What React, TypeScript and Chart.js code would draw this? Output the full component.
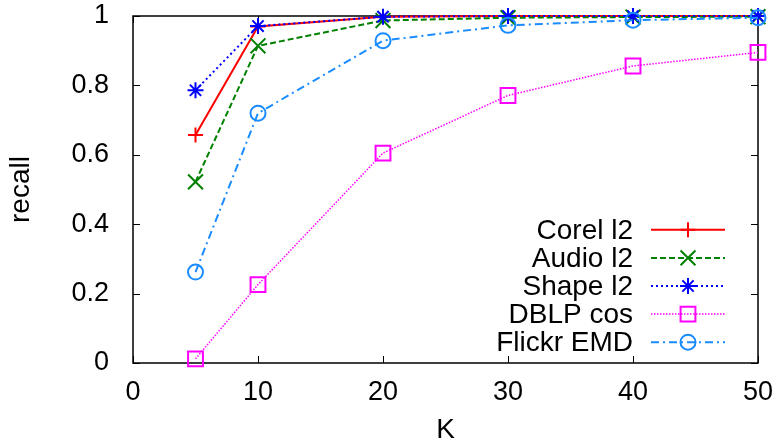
import React, { useEffect, useRef } from 'react';
import { Chart, registerables } from 'chart.js';

Chart.register(...registerables);

// ---- data ----
const kValues = [5, 10, 20, 30, 40, 50];
const corelL2 = [0.657, 0.970, 0.998, 1.0, 1.0, 1.0];
const audioL2 = [0.522, 0.914, 0.987, 0.995, 0.997, 0.998];
const shapeL2 = [0.786, 0.971, 0.998, 1.0, 1.0, 1.0];
const dblpCos = [0.012, 0.226, 0.605, 0.771, 0.856, 0.895];
const flickrEMD = [0.262, 0.720, 0.929, 0.973, 0.988, 0.995];
const seriesNames = ['Corel l2', 'Audio l2', 'Shape l2', 'DBLP cos', 'Flickr EMD'];
const xTicks = [0, 10, 20, 30, 40, 50];
const yTicks = [0, 0.2, 0.4, 0.6, 0.8, 1];
const yTickLabels = ['0', '0.2', '0.4', '0.6', '0.8', '1'];
const xTitle = 'K';
const yTitle = 'recall';

// ---- styles ----
const FONT = '"Liberation Sans", Arial, Helvetica, sans-serif';
const FS = 28;
const TFS = 27;
const styles = [
  { color: '#ff0000', dash: [] as number[], width: 2, point: 'cross', radius: 7.5 },
  { color: '#008000', dash: [6, 3], width: 2, point: 'crossRot', radius: 10.5 },
  { color: '#0000ff', dash: [2, 3], width: 2, point: 'star', radius: 8 },
  { color: '#ff00ff', dash: [1.5, 1.5], width: 1.5, point: 'rect', radius: 10.5 },
  { color: '#1a8cff', dash: [8, 4, 2, 4], width: 2, point: 'circle', radius: 7.5 },
];
const allSeries = [corelL2, audioL2, shapeL2, dblpCos, flickrEMD];

function drawMarker(ctx: CanvasRenderingContext2D, style: string, x: number, y: number, r: number) {
  ctx.beginPath();
  const d = r * Math.SQRT1_2;
  switch (style) {
    case 'cross':
      ctx.moveTo(x - r, y); ctx.lineTo(x + r, y);
      ctx.moveTo(x, y - r); ctx.lineTo(x, y + r);
      break;
    case 'crossRot':
      ctx.moveTo(x - d, y - d); ctx.lineTo(x + d, y + d);
      ctx.moveTo(x - d, y + d); ctx.lineTo(x + d, y - d);
      break;
    case 'star':
      ctx.moveTo(x - r, y); ctx.lineTo(x + r, y);
      ctx.moveTo(x, y - r); ctx.lineTo(x, y + r);
      ctx.moveTo(x - d, y - d); ctx.lineTo(x + d, y + d);
      ctx.moveTo(x - d, y + d); ctx.lineTo(x + d, y - d);
      break;
    case 'rect':
      ctx.rect(x - d, y - d, 2 * d, 2 * d);
      break;
    case 'circle':
      ctx.arc(x, y, r, 0, Math.PI * 2);
      break;
  }
  ctx.stroke();
}

const framePlugin = {
  id: 'gnuFrame',
  beforeDatasetsDraw(chart: any) {
    const { ctx, chartArea, scales } = chart;
    const { left, right, top, bottom } = chartArea;
    ctx.save();
    ctx.strokeStyle = '#000';
    ctx.lineWidth = 1;
    const tl = 7;
    ctx.beginPath();
    xTicks.forEach((v) => {
      const px = Math.round(scales.x.getPixelForValue(v)) + 0.5;
      ctx.moveTo(px, bottom); ctx.lineTo(px, bottom - tl);
      ctx.moveTo(px, top); ctx.lineTo(px, top + tl);
    });
    yTicks.forEach((v) => {
      const py = Math.round(scales.y.getPixelForValue(v)) + 0.5;
      ctx.moveTo(left, py); ctx.lineTo(left + tl, py);
      ctx.moveTo(right, py); ctx.lineTo(right - tl, py);
    });
    ctx.stroke();
    ctx.lineWidth = 1.5;
    ctx.strokeRect(left, top, right - left, bottom - top);
    ctx.restore();
  },
};

const legendPlugin = {
  id: 'gnuLegend',
  afterDraw(chart: any) {
    const { ctx, chartArea } = chart;
    const { right, bottom } = chartArea;
    const textRight = right - 125;
    const sampleL = right - 107;
    const sampleR = right - 33;
    const markX = (sampleL + sampleR) / 2;
    const rowH = 28.1;
    const firstY = bottom - 133.2;
    ctx.save();
    ctx.font = `${FS}px ${FONT}`;
    ctx.textAlign = 'right';
    ctx.textBaseline = 'middle';
    seriesNames.forEach((name, i) => {
      const s = styles[i];
      const y = firstY + i * rowH;
      ctx.fillStyle = '#000';
      ctx.fillText(name, textRight, y + 1);
      ctx.strokeStyle = s.color;
      ctx.lineWidth = s.width;
      ctx.setLineDash(s.dash);
      ctx.beginPath();
      ctx.moveTo(sampleL, y); ctx.lineTo(sampleR, y);
      ctx.stroke();
      ctx.setLineDash([]);
      ctx.lineWidth = 2;
      drawMarker(ctx, s.point, markX, y, s.radius);
    });
    ctx.restore();
  },
};

export default function App() {
  const ref = useRef<HTMLCanvasElement | null>(null);
  useEffect(() => {
    if (!ref.current) return;
    const chart = new Chart(ref.current, {
      type: 'line',
      data: {
        datasets: allSeries.map((vals, i) => ({
          label: seriesNames[i],
          data: vals.map((v, j) => ({ x: kValues[j], y: v })),
          borderColor: styles[i].color,
          borderWidth: styles[i].width,
          borderDash: styles[i].dash,
          pointStyle: styles[i].point as any,
          pointRadius: styles[i].radius,
          pointBorderWidth: 2,
          pointBorderColor: styles[i].color,
          pointBackgroundColor: 'rgba(0,0,0,0)',
          fill: false,
          tension: 0,
          clip: false as any,
          order: styles.length - i,
        })),
      },
      options: {
        responsive: false,
        animation: false,
        events: [],
        layout: { padding: { top: 16, right: 23, left: 0, bottom: 0 } },
        plugins: { legend: { display: false }, tooltip: { enabled: false } },
        scales: {
          x: {
            type: 'linear',
            min: 0,
            max: 50,
            afterBuildTicks: (s: any) => { s.ticks = xTicks.map((v) => ({ value: v })); },
            afterFit: (s: any) => { s.height = 80; s.paddingLeft = 0; s.paddingRight = 0; },
            ticks: { color: '#000', font: { family: FONT, size: TFS }, padding: 5, maxRotation: 0 },
            grid: { display: false },
            border: { display: false },
            title: {
              display: true, text: xTitle, color: '#000',
              font: { family: FONT, size: FS, lineHeight: 1 },
              padding: { top: 0, bottom: -1 },
            },
          },
          y: {
            type: 'linear',
            min: 0,
            max: 1,
            afterBuildTicks: (s: any) => { s.ticks = yTicks.map((v) => ({ value: v })); },
            afterFit: (s: any) => { s.width = 133; s.paddingTop = 0; s.paddingBottom = 0; },
            ticks: {
              color: '#000', font: { family: FONT, size: TFS }, padding: 16,
              callback: (v: any) => { const i = yTicks.indexOf(Number(v)); return i >= 0 ? yTickLabels[i] : ''; },
            },
            grid: { display: false },
            border: { display: false },
            title: {
              display: true, text: yTitle, color: '#000',
              font: { family: FONT, size: FS, lineHeight: 1 },
              padding: { top: 7, bottom: 0 },
            },
          },
        },
      },
      plugins: [framePlugin, legendPlugin],
    });
    return () => chart.destroy();
  }, []);
  return (
    <div style={{ position: 'absolute', left: 0, top: 0, width: 781, height: 443, background: '#fff' }}>
      <canvas ref={ref} width={781} height={443} style={{ display: 'block', width: 781, height: 443 }} />
    </div>
  );
}
